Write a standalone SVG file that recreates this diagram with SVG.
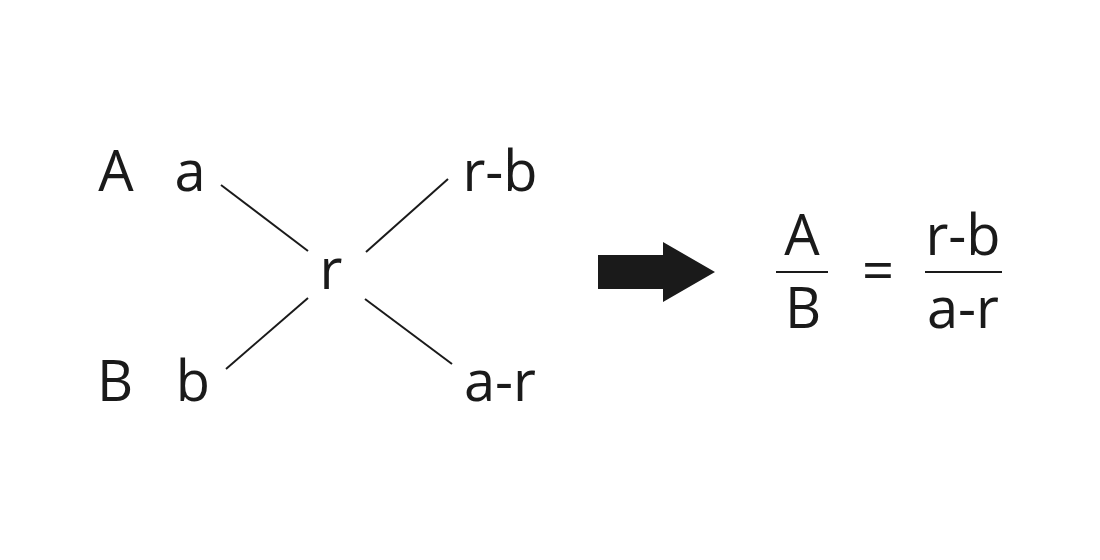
<svg xmlns="http://www.w3.org/2000/svg" width="1100" height="560" viewBox="0 0 1100 560">
<style>
text{font-family:"Open Sans","Noto Sans","Liberation Sans",sans-serif;font-size:56px;fill:#1a1a1a;text-anchor:middle}
.c line{stroke:#1a1a1a;stroke-width:2}
</style>
<rect width="1100" height="560" fill="#fff"/>
<g id="A"><text x="116" y="191">A</text></g>
<g id="a"><text x="190" y="191">a</text></g>
<g id="rb"><text x="500" y="191">r-b</text></g>
<g id="r"><text x="331" y="289">r</text></g>
<g id="B"><text x="115" y="401">B</text></g>
<g id="b"><text x="193" y="401">b</text></g>
<g id="ar"><text x="500" y="401">a-r</text></g>
<g class="c" id="connectors">
<line x1="221" y1="185" x2="308" y2="251"/>
<line x1="448" y1="179" x2="366" y2="252"/>
<line x1="308" y1="298" x2="226" y2="369"/>
<line x1="365" y1="299" x2="452" y2="364"/>
</g>
<g id="arrow"><polygon points="598,255 663,255 663,242 715,272 663,302 663,289 598,289" fill="#1a1a1a"/></g>
<g id="formula" class="c">
<text x="802" y="255">A</text>
<line x1="776" y1="272" x2="828" y2="272"/>
<text x="803" y="328">B</text>
<text x="878" y="290">=</text>
<text x="963" y="255">r-b</text>
<line x1="925" y1="272" x2="1002" y2="272"/>
<text x="963" y="328">a-r</text>
</g>
</svg>
